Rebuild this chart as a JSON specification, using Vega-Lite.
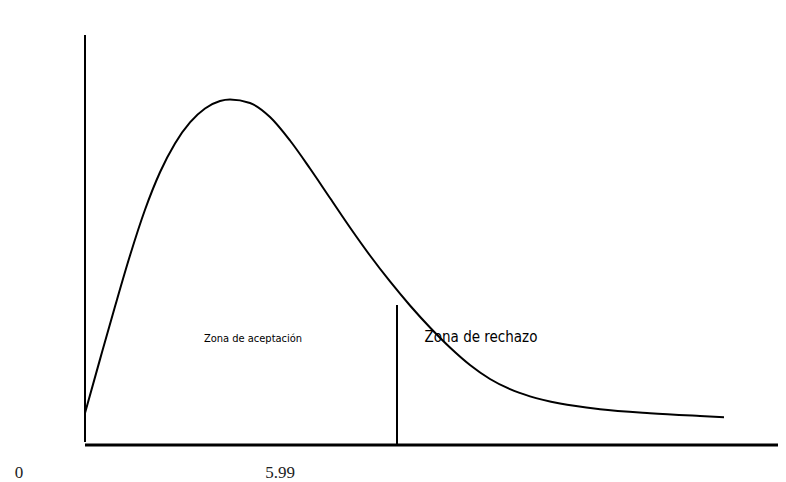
{
  "$schema": "https://vega.github.io/schema/vega-lite/v6.json",
  "width": 786,
  "height": 482,
  "autosize": "none",
  "padding": 0,
  "background": "white",
  "config": {"view": {"stroke": null}},
  "datasets": {
    "curve": [
      {"x": 0, "y": 0.02133}, {"x": 0.3, "y": 0.05707}, {"x": 0.6, "y": 0.09233}, {"x": 0.9, "y": 0.12633},
      {"x": 1.2, "y": 0.15683}, {"x": 1.5, "y": 0.18183}, {"x": 1.8, "y": 0.20107}, {"x": 2.1, "y": 0.21507},
      {"x": 2.4, "y": 0.22433}, {"x": 2.7, "y": 0.22933}, {"x": 2.9, "y": 0.23033}, {"x": 3.3, "y": 0.228},
      {"x": 3.7, "y": 0.21867}, {"x": 4.1, "y": 0.203}, {"x": 4.5, "y": 0.18433}, {"x": 4.9, "y": 0.16467},
      {"x": 5.3, "y": 0.145}, {"x": 5.7, "y": 0.12633}, {"x": 6.1, "y": 0.109}, {"x": 6.5, "y": 0.093},
      {"x": 6.9, "y": 0.07833}, {"x": 7.3, "y": 0.065}, {"x": 7.7, "y": 0.05333}, {"x": 8.1, "y": 0.044},
      {"x": 8.5, "y": 0.0372}, {"x": 8.9, "y": 0.0324}, {"x": 9.5, "y": 0.0276}, {"x": 10.3, "y": 0.02387},
      {"x": 11.3, "y": 0.0212}, {"x": 12.3, "y": 0.01933}, {"x": 12.78, "y": 0.01853}
    ],
    "hrules": [{"x": 0, "x2": 13.86, "y": 0}],
    "vrules": [
      {"x": 0, "y": 0.002, "y2": 0.2733},
      {"x": 6.24, "y": 0, "y2": 0.0933}
    ],
    "ticks": [
      {"x": -1.32, "y": -0.0187, "label": "0"},
      {"x": 3.9, "y": -0.0187, "label": "5.99"}
    ],
    "zone1": [{"x": 3.36, "y": 0.0707, "label": "Zona de aceptación"}],
    "zone2": [{"x": 7.92, "y": 0.072, "label": "Zona de rechazo"}]
  },
  "layer": [
    {
      "data": {"name": "curve"},
      "mark": {"type": "line", "interpolate": "monotone", "color": "black", "strokeWidth": 2},
      "encoding": {
        "x": {"field": "x", "type": "quantitative", "scale": {"domain": [-1.7, 14.02], "nice": false, "zero": false}, "axis": null},
        "y": {"field": "y", "type": "quantitative", "scale": {"domain": [-0.02467, 0.29667], "nice": false, "zero": false}, "axis": null}
      }
    },
    {
      "data": {"name": "hrules"},
      "mark": {"type": "rule", "color": "black", "strokeWidth": 3},
      "encoding": {
        "x": {"field": "x", "type": "quantitative"},
        "x2": {"field": "x2"},
        "y": {"field": "y", "type": "quantitative"}
      }
    },
    {
      "data": {"name": "vrules"},
      "mark": {"type": "rule", "color": "black", "strokeWidth": 2},
      "encoding": {
        "x": {"field": "x", "type": "quantitative"},
        "y": {"field": "y", "type": "quantitative"},
        "y2": {"field": "y2"}
      }
    },
    {
      "data": {"name": "ticks"},
      "mark": {"type": "text", "font": "Liberation Serif", "fontSize": 17, "color": "#222222", "align": "center", "baseline": "middle"},
      "encoding": {
        "x": {"field": "x", "type": "quantitative"},
        "y": {"field": "y", "type": "quantitative"},
        "text": {"field": "label"}
      }
    },
    {
      "data": {"name": "zone1"},
      "mark": {"type": "text", "font": "DejaVu Sans Condensed", "fontSize": 11, "color": "black", "align": "center", "baseline": "middle"},
      "encoding": {
        "x": {"field": "x", "type": "quantitative"},
        "y": {"field": "y", "type": "quantitative"},
        "text": {"field": "label"}
      }
    },
    {
      "data": {"name": "zone2"},
      "mark": {"type": "text", "font": "DejaVu Sans Condensed", "fontSize": 15, "color": "black", "align": "center", "baseline": "middle"},
      "encoding": {
        "x": {"field": "x", "type": "quantitative"},
        "y": {"field": "y", "type": "quantitative"},
        "text": {"field": "label"}
      }
    }
  ]
}
